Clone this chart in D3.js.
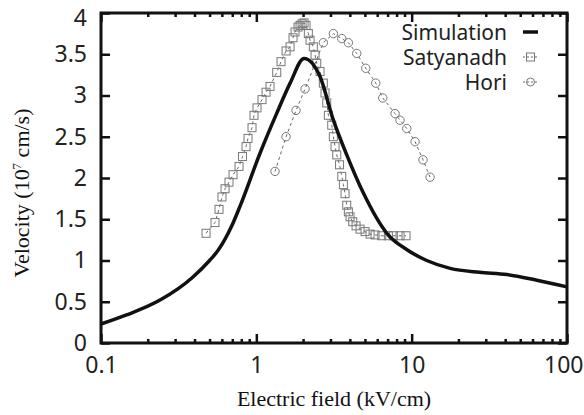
<!DOCTYPE html>
<html>
<head>
<meta charset="utf-8">
<script src="https://cdn.jsdelivr.net/npm/d3@7"></script>
<style>
  body { margin: 0; background: #fff; }
  text { font-family: "Noto Sans", "Open Sans", sans-serif; fill: #222; }
  .title { font-family: "Liberation Serif", "Times New Roman", serif; fill: #111; }
</style>
</head>
<body>
<div id="chart"></div>
<script>
const width = 584, height = 415;
const margin = { top: 13, right: 17, bottom: 72, left: 101 };

// Simulation curve (E in kV/cm, v in 1e7 cm/s)
const simField = [0.1, 0.146, 0.24, 0.391, 0.5, 0.566, 0.695, 0.786, 1.056, 1.35, 1.65, 2.03, 2.57, 3.11, 3.82, 4.88, 6.92, 9.33, 12.5, 17.7, 27.4, 41, 64, 100];
const simVel   = [0.23, 0.34, 0.52, 0.80, 1.0, 1.12, 1.42, 1.66, 2.30, 2.78, 3.15, 3.45, 3.23, 2.72, 2.28, 1.82, 1.33, 1.13, 1.0, 0.905, 0.857, 0.83, 0.76, 0.68];

// Satyanadh data
const satField = [0.4745, 0.542, 0.575, 0.601, 0.629, 0.667, 0.708, 0.774, 0.815, 0.858, 0.884, 0.938, 0.966, 1.01, 1.088, 1.155, 1.225, 1.353, 1.442, 1.554, 1.648, 1.723, 1.775, 1.856, 1.912, 1.970, 2.029, 2.089, 2.162, 2.217, 2.328, 2.388, 2.448, 2.571, 2.700, 2.769, 2.840, 2.909, 3.058, 3.132, 3.212, 3.294, 3.433, 3.548, 3.634, 3.725, 3.820, 3.913, 4.011, 4.175, 4.385, 4.654, 5.011, 5.397, 5.812, 6.419, 7.08, 7.62, 8.42, 9.20];
const satVel   = [1.33, 1.46, 1.62, 1.77, 1.87, 1.95, 2.04, 2.14, 2.26, 2.38, 2.48, 2.61, 2.76, 2.85, 2.95, 3.04, 3.11, 3.28, 3.41, 3.54, 3.59, 3.70, 3.77, 3.83, 3.85, 3.87, 3.88, 3.85, 3.75, 3.67, 3.59, 3.49, 3.39, 3.29, 3.15, 3.03, 2.91, 2.76, 2.64, 2.50, 2.38, 2.28, 2.16, 2.02, 1.92, 1.81, 1.67, 1.59, 1.53, 1.47, 1.42, 1.38, 1.35, 1.32, 1.31, 1.30, 1.30, 1.30, 1.30, 1.30];

// Hori data
const horiField = [1.319, 1.554, 1.801, 2.059, 2.700, 3.132, 3.548, 3.913, 4.43, 5.063, 5.873, 6.515, 7.82, 8.42, 9.30, 10.52, 11.84, 13.13];
const horiVel   = [2.08, 2.50, 2.82, 3.08, 3.64, 3.75, 3.69, 3.64, 3.51, 3.33, 3.15, 2.97, 2.78, 2.70, 2.60, 2.44, 2.22, 2.01];

const xMajor = [0.1, 1, 10, 100];
const yTicks = [0, 0.5, 1, 1.5, 2, 2.5, 3, 3.5, 4];
const legendLabels = ["Simulation", "Satyanadh", "Hori"];

const svg = d3.select("#chart").append("svg")
  .attr("width", width)
  .attr("height", height);

const x = d3.scaleLog().domain([0.1, 100]).range([margin.left, width - margin.right]);
const y = d3.scaleLinear().domain([0, 4]).range([height - margin.bottom, margin.top]);

const x0 = x.range()[0], x1 = x.range()[1], y0 = y.range()[0], y1 = y.range()[1];

const xMinor = x.ticks().filter(v => !xMajor.includes(v));
const fmt = d => (d < 1 ? d3.format(".1f")(d) : d3.format("d")(d));

// AXES (ticks point inward)
const bottomMinor = svg.append("g").attr("transform", `translate(0,${y0})`)
  .call(d3.axisBottom(x).tickValues(xMinor).tickSize(-4).tickFormat(""));
const bottom = svg.append("g").attr("transform", `translate(0,${y0})`)
  .call(d3.axisBottom(x).tickValues(xMajor).tickSize(-9).tickPadding(14).tickFormat(fmt));
const topMinor = svg.append("g").attr("transform", `translate(0,${y1})`)
  .call(d3.axisTop(x).tickValues(xMinor).tickSize(-4).tickFormat(""));
const topMajor = svg.append("g").attr("transform", `translate(0,${y1})`)
  .call(d3.axisTop(x).tickValues(xMajor).tickSize(-9).tickFormat(""));
const left = svg.append("g").attr("transform", `translate(${x0},0)`)
  .call(d3.axisLeft(y).tickValues(yTicks).tickSize(-9).tickPadding(14).tickFormat(d3.format("")));
const right = svg.append("g").attr("transform", `translate(${x1},0)`)
  .call(d3.axisRight(y).tickValues(yTicks).tickSize(-9).tickFormat(""));

[bottomMinor, bottom, topMinor, topMajor, left, right].forEach(g => {
  g.select(".domain").remove();
  g.selectAll(".tick line").attr("stroke", "#111").attr("stroke-width", 2.5);
  g.selectAll(".tick text")
    .attr("font-family", "'Noto Sans', 'Open Sans', sans-serif")
    .attr("font-size", 23)
    .attr("fill", "#222");
});

// edge labels squeezed inside the picture
left.selectAll(".tick text").filter(d => d === 4).attr("dy", "0.55em");
bottom.selectAll(".tick text").filter(d => d === 100).attr("text-anchor", "end").attr("x", 16);

// FRAME
svg.append("rect")
  .attr("x", x0).attr("y", y1)
  .attr("width", x1 - x0).attr("height", y0 - y1)
  .attr("fill", "none").attr("stroke", "#111").attr("stroke-width", 3);

const line = d3.line().x(d => x(d[0])).y(d => y(d[1]));

// SATYANADH
const sat = satField.map((v, i) => [v, satVel[i]]);
svg.append("path").datum(sat)
  .attr("fill", "none").attr("stroke", "#666").attr("stroke-width", 1)
  .attr("stroke-dasharray", "3,3").attr("d", line);
svg.append("g").selectAll("rect").data(sat).join("rect")
  .attr("x", d => x(d[0]) - 4).attr("y", d => y(d[1]) - 4)
  .attr("width", 8).attr("height", 8)
  .attr("fill", "none").attr("stroke", "#777").attr("stroke-width", 1);

// HORI
const hori = horiField.map((v, i) => [v, horiVel[i]]);
svg.append("path").datum(hori)
  .attr("fill", "none").attr("stroke", "#666").attr("stroke-width", 1)
  .attr("stroke-dasharray", "3,3").attr("d", line);
svg.append("g").selectAll("circle").data(hori).join("circle")
  .attr("cx", d => x(d[0])).attr("cy", d => y(d[1])).attr("r", 4.2)
  .attr("fill", "none").attr("stroke", "#777").attr("stroke-width", 1);

// SIMULATION
const sim = simField.map((v, i) => [v, simVel[i]]);
svg.append("path").datum(sim)
  .attr("fill", "none").attr("stroke", "#111").attr("stroke-width", 3.5)
  .attr("stroke-linejoin", "round")
  .attr("d", line.curve(d3.curveMonotoneX));

// LEGEND
const legend = svg.append("g");
legendLabels.forEach((name, i) => {
  const ly = 32 + i * 25;
  legend.append("text")
    .attr("x", 507).attr("y", ly + 8)
    .attr("text-anchor", "end")
    .attr("font-size", 21)
    .text(name);
  if (i === 0) {
    legend.append("line").attr("x1", 523).attr("x2", 538).attr("y1", ly).attr("y2", ly)
      .attr("stroke", "#111").attr("stroke-width", 3.5);
  } else {
    legend.append("line").attr("x1", 523).attr("x2", 538).attr("y1", ly).attr("y2", ly)
      .attr("stroke", "#666").attr("stroke-width", 1).attr("stroke-dasharray", "2,2");
    if (i === 1) {
      legend.append("rect").attr("x", 526.5).attr("y", ly - 4).attr("width", 8).attr("height", 8)
        .attr("fill", "none").attr("stroke", "#777");
    } else {
      legend.append("circle").attr("cx", 530.5).attr("cy", ly).attr("r", 4)
        .attr("fill", "none").attr("stroke", "#777");
    }
  }
});

// AXIS TITLES
svg.append("text").attr("class", "title")
  .attr("x", (x0 + x1) / 2).attr("y", 406)
  .attr("text-anchor", "middle").attr("font-size", 22)
  .text("Electric field (kV/cm)");

const yt = svg.append("text").attr("class", "title")
  .attr("transform", `translate(29,${(y0 + y1) / 2 + 15}) rotate(-90)`)
  .attr("text-anchor", "middle").attr("font-size", 22);
yt.append("tspan").text("Velocity (10");
yt.append("tspan").attr("font-size", 13).attr("dy", -8).text("7");
yt.append("tspan").attr("dy", 8).text(" cm/s)");
</script>
</body>
</html>
